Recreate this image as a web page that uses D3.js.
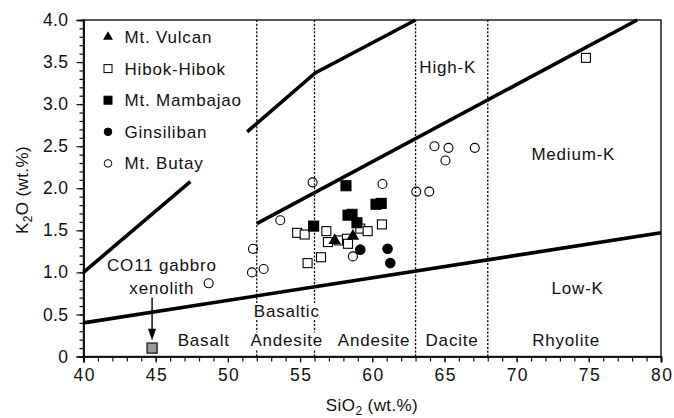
<!DOCTYPE html>
<html>
<head>
<meta charset="utf-8">
<script src="https://cdn.jsdelivr.net/npm/d3@7"></script>
<style>
  html, body { margin: 0; padding: 0; background: #fff; }
  svg text { font-family: "Liberation Sans", Arial, Helvetica, sans-serif; fill: #111; }
</style>
</head>
<body>
<svg id="chart" width="674" height="418"></svg>
<script>
// SiO2 vs K2O classification diagram

// Sample series: [SiO2, K2O] in wt.%
const vulcan = [[57.4, 1.38], [58.66, 1.43]];
const hibok = [
  [74.8, 3.55], [54.8, 1.47], [55.32, 1.45], [56.82, 1.49], [56.93, 1.36],
  [57.67, 1.38], [58.25, 1.40], [58.32, 1.34], [59.17, 1.52], [59.68, 1.49],
  [60.67, 1.57], [55.52, 1.11], [56.45, 1.18]
];
const mambajao = [
  [58.18, 2.03], [55.94, 1.55], [60.26, 1.81], [60.62, 1.82],
  [58.32, 1.68], [58.6, 1.69], [58.94, 1.59]
];
const ginsiliban = [[59.17, 1.27], [61.06, 1.28], [61.25, 1.11]];
const butay = [
  [55.87, 2.07], [60.71, 2.05], [63.05, 1.96], [63.95, 1.96], [53.63, 1.62],
  [51.74, 1.28], [51.67, 1.00], [52.48, 1.04], [58.66, 1.19], [48.67, 0.87],
  [64.31, 2.50], [65.28, 2.48], [67.1, 2.48], [65.07, 2.33]
];
const xenolith = [[44.75, 0.10]];

// Boundary lines between K-series fields
const lowKLine = [[40, 0.40], [80, 1.47]];
const highKLine = [[52, 1.58], [78.35, 4.0]];
const shoshoniteLineA = [[40, 1.0], [47.4, 2.08]];
const shoshoniteLineB = [[51.33, 2.67], [56.05, 3.37], [63, 4.0]];

// Rock-type divisions on SiO2
const silicaDivisions = [52, 56, 63, 68];

const xTicks = [40, 45, 50, 55, 60, 65, 70, 75, 80];
const yTicks = [0, 0.5, 1.0, 1.5, 2.0, 2.5, 3.0, 3.5, 4.0];

const legendNames = ["Mt. Vulcan", "Hibok-Hibok", "Mt. Mambajao", "Ginsiliban", "Mt. Butay"];
const legendSymbols = ["triangle", "openSquare", "filledSquare", "filledCircle", "openCircle"];

// Field labels: [text, SiO2, K2O]
const rockLabels = [
  ["Basalt", 48.3, 0.12], ["Basaltic", 54.05, 0.47], ["Andesite", 54.05, 0.12],
  ["Andesite", 60.1, 0.12], ["Dacite", 65.5, 0.12], ["Rhyolite", 73.4, 0.12]
];
const seriesLabels = [
  ["Low-K", 74.2, 0.74], ["Medium-K", 73.9, 2.34], ["High-K", 65.2, 3.37]
];

const svg = d3.select("#chart");
const x = d3.scaleLinear().domain([40, 80]).range([83.5, 661]);
const y = d3.scaleLinear().domain([0, 4]).range([356.5, 20]);

const LABEL_SIZE = 17;
const LABEL_SPACING = 0.8;

// Frame
svg.append("rect")
  .attr("x", x(40)).attr("y", y(4))
  .attr("width", x(80) - x(40)).attr("height", y(0) - y(4))
  .attr("fill", "none").attr("stroke", "#111").attr("stroke-width", 1.4);

// Axes with minor ticks
const xAxisMinor = d3.axisBottom(x).tickValues(d3.range(40, 81, 1)).tickSize(5).tickFormat("");
const xAxisMajor = d3.axisBottom(x).tickValues(xTicks).tickSize(6).tickPadding(6).tickFormat(d3.format("d"));
const yAxisMinor = d3.axisLeft(y).tickValues(d3.range(0, 41).map(d => d / 10)).tickSize(4).tickFormat("");
const yAxisMajor = d3.axisLeft(y).tickValues(yTicks).tickSize(7).tickPadding(8)
  .tickFormat(d => d === 0 ? "0" : d3.format(".1f")(d));

function styleAxis(g) {
  g.select(".domain").attr("stroke", "#111").attr("stroke-width", 1.6);
  g.selectAll(".tick line").attr("stroke", "#111").attr("stroke-width", 1.2);
  g.selectAll(".tick text").attr("font-size", 17.5).attr("fill", "#111")
    .attr("font-family", "'Liberation Sans', Arial, sans-serif");
}
svg.append("g").attr("transform", `translate(0,${y(0)})`).call(xAxisMinor).call(styleAxis);
svg.append("g").attr("transform", `translate(0,${y(0)})`).call(xAxisMajor).call(styleAxis)
  .selectAll(".tick text").attr("letter-spacing", 1.5).attr("dx", 0.75);
svg.append("g").attr("transform", `translate(${x(40)},0)`).call(yAxisMinor).call(styleAxis);
svg.append("g").attr("transform", `translate(${x(40)},0)`).call(yAxisMajor).call(styleAxis)
  .selectAll(".tick text").attr("letter-spacing", 0.4);

// Axis titles
const xt = svg.append("text").attr("x", 372).attr("y", 411).attr("text-anchor", "middle")
  .attr("font-size", 17).attr("letter-spacing", 0.4);
xt.append("tspan").text("SiO");
xt.append("tspan").text("2").attr("font-size", 12).attr("dy", 4);
xt.append("tspan").text(" (wt.%)").attr("dy", -4);

const yt = svg.append("text").attr("transform", "translate(28,190) rotate(-90)")
  .attr("text-anchor", "middle").attr("font-size", 17).attr("letter-spacing", 0.4);
yt.append("tspan").text("K");
yt.append("tspan").text("2").attr("font-size", 12).attr("dy", 4);
yt.append("tspan").text("O (wt.%)").attr("dy", -4);

// Silica division lines
svg.append("g").selectAll("line").data(silicaDivisions).join("line")
  .attr("x1", d => x(d)).attr("x2", d => x(d))
  .attr("y1", y(0)).attr("y2", y(4))
  .attr("stroke", "#111").attr("stroke-width", 1.3)
  .attr("stroke-dasharray", "2.2,1.6");

// Field labels with white backing
const labelG = svg.append("g");
function addLabel(t, sx, ky, backing) {
  const txt = labelG.append("text").attr("x", x(sx) + LABEL_SPACING / 2).attr("y", y(ky))
    .attr("text-anchor", "middle").attr("font-size", LABEL_SIZE)
    .attr("letter-spacing", LABEL_SPACING).text(t);
  if (backing) {
    const b = txt.node().getBBox();
    labelG.insert("rect", "text").attr("x", b.x - 1).attr("y", b.y + 1)
      .attr("width", b.width + 1).attr("height", b.height - 2).attr("fill", "#fff");
  }
}
rockLabels.forEach(d => addLabel(d[0], d[1], d[2], true));
seriesLabels.forEach(d => addLabel(d[0], d[1], d[2], false));

// Boundary lines
const line = d3.line().x(d => x(d[0])).y(d => y(d[1]));
[lowKLine, highKLine, shoshoniteLineA, shoshoniteLineB].forEach(pts => {
  svg.append("path").attr("d", line(pts)).attr("fill", "none")
    .attr("stroke", "#000").attr("stroke-width", 3.6).attr("stroke-linejoin", "miter");
});

// Xenolith annotation
addLabel("CO11 gabbro", 45.4, 1.02, false);
addLabel("xenolith", 45.4, 0.74, false);
svg.append("line")
  .attr("x1", x(xenolith[0][0])).attr("x2", x(xenolith[0][0]))
  .attr("y1", y(0.70)).attr("y2", y(0.30))
  .attr("stroke", "#000").attr("stroke-width", 1.4);
svg.append("path")
  .attr("d", d3.line()([[x(xenolith[0][0]) - 4, y(0.33)], [x(xenolith[0][0]) + 4, y(0.33)], [x(xenolith[0][0]), y(0.19)]]) + "Z")
  .attr("fill", "#000");
svg.append("g").selectAll("rect").data(xenolith).join("rect")
  .attr("x", d => x(d[0]) - 5).attr("y", d => y(d[1]) - 5)
  .attr("width", 10).attr("height", 10)
  .attr("fill", "#9a9a9a").attr("stroke", "#222").attr("stroke-width", 1.4);

// Marker drawing
function drawSymbols(g, data, kind, s) {
  if (kind === "openSquare" || kind === "filledSquare") {
    g.selectAll(null).data(data).join("rect")
      .attr("x", d => x(d[0]) - s / 2).attr("y", d => y(d[1]) - s / 2)
      .attr("width", s).attr("height", s)
      .attr("fill", kind === "filledSquare" ? "#000" : "#fff")
      .attr("stroke", "#000").attr("stroke-width", 1.1);
  } else if (kind === "openCircle" || kind === "filledCircle") {
    g.selectAll(null).data(data).join("circle")
      .attr("cx", d => x(d[0])).attr("cy", d => y(d[1])).attr("r", s / 2)
      .attr("fill", kind === "filledCircle" ? "#000" : "none")
      .attr("stroke", "#000").attr("stroke-width", 1.1);
  } else {
    const tri = d3.symbol().type(d3.symbolTriangle).size(s * s * 0.55);
    g.selectAll(null).data(data).join("path")
      .attr("d", tri)
      .attr("transform", d => `translate(${x(d[0])},${y(d[1])})`)
      .attr("fill", "#000");
  }
}
const pts = svg.append("g");
drawSymbols(pts, butay, "openCircle", 9);
drawSymbols(pts, hibok, "openSquare", 9);
drawSymbols(pts, mambajao, "filledSquare", 10);
drawSymbols(pts, ginsiliban, "filledCircle", 9.5);
drawSymbols(pts, vulcan, "triangle", 11);

// Legend
const legend = svg.append("g");
const legendRowY = i => 37 + i * 31.6;
legendNames.forEach((name, i) => {
  const cy = legendRowY(i), cx = 108;
  const k = legendSymbols[i];
  if (k === "triangle") {
    legend.append("path").attr("d", d3.symbol().type(d3.symbolTriangle).size(42)())
      .attr("transform", `translate(${cx},${cy})`).attr("fill", "#000");
  } else if (k === "openSquare" || k === "filledSquare") {
    legend.append("rect").attr("x", cx - 4).attr("y", cy - 4).attr("width", 8).attr("height", 8)
      .attr("fill", k === "filledSquare" ? "#000" : "#fff").attr("stroke", "#000").attr("stroke-width", 1);
  } else {
    legend.append("circle").attr("cx", cx).attr("cy", cy).attr("r", 3.8)
      .attr("fill", k === "filledCircle" ? "#000" : "#fff").attr("stroke", "#000").attr("stroke-width", 1);
  }
  legend.append("text").attr("x", 124.5).attr("y", cy + 6).attr("font-size", LABEL_SIZE)
    .attr("letter-spacing", LABEL_SPACING).text(name);
});
</script>
</body>
</html>
